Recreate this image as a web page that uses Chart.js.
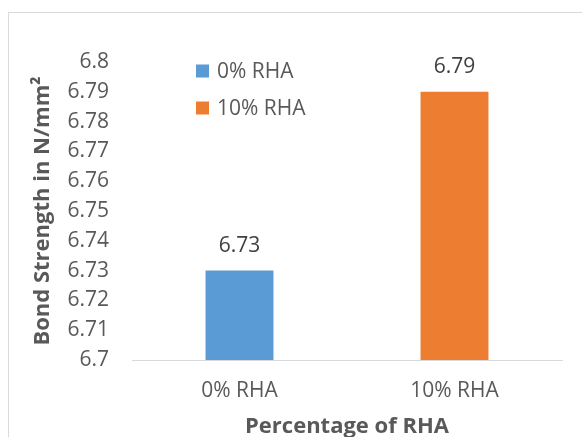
<!DOCTYPE html>
<html lang="en">
<head>
    <meta charset="UTF-8">
    <title>Bond Strength vs Percentage of RHA</title>
    <style>
        html, body {
            margin: 0;
            padding: 0;
            background: #fff;
            overflow: hidden;
        }
        .wrap {
            position: relative;
            width: 582px;
            height: 437px;
        }
        .frame {
            position: absolute;
            left: 8px;
            top: 12px;
            width: 600px;
            height: 460px;
            border: 1px solid #d9d9d9;
            pointer-events: none;
        }
        canvas {
            position: absolute;
            left: 0;
            top: 0;
        }
    </style>
</head>
<body>
    <div class="wrap">
        <div class="frame"></div>
        <canvas id="bondChart" width="582" height="437"></canvas>
    </div>

    <script src="https://cdn.jsdelivr.net/npm/chart.js"></script>
    <script>
        // chart data
        const categories = ['0% RHA', '10% RHA'];
        const seriesNames = ['0% RHA', '10% RHA'];
        const blueValues = [6.73, null];
        const orangeValues = [null, 6.79];
        const colors = ['#5b9bd5', '#ed7d31'];
        const yMin = 6.7;
        const yMax = 6.8;
        const yStep = 0.01;

        const FONT = "'Open Sans', sans-serif";

        // value labels above the bars
        const valueLabels = {
            id: 'valueLabels',
            afterDatasetsDraw(chart) {
                const ctx = chart.ctx;
                ctx.save();
                ctx.font = '21px ' + FONT;
                ctx.fillStyle = '#404040';
                ctx.textAlign = 'center';
                ctx.textBaseline = 'middle';
                chart.data.datasets.forEach((ds, i) => {
                    const meta = chart.getDatasetMeta(i);
                    meta.data.forEach((bar, j) => {
                        const v = ds.data[j];
                        if (v === null || v === undefined) return;
                        ctx.fillText(v.toFixed(2), bar.x, bar.y - 25);
                    });
                });
                ctx.restore();
            }
        };

        // legend drawn inside the plot, top-left
        const innerLegend = {
            id: 'innerLegend',
            afterDraw(chart) {
                const ctx = chart.ctx;
                const x0 = 196;
                const rows = [71, 108];
                ctx.save();
                ctx.font = '21px ' + FONT;
                ctx.textAlign = 'left';
                ctx.textBaseline = 'middle';
                chart.data.datasets.forEach((ds, i) => {
                    const y = rows[i];
                    ctx.fillStyle = ds.backgroundColor;
                    ctx.fillRect(x0, y - 6.5, 13, 13);
                    ctx.fillStyle = '#595959';
                    ctx.fillText(ds.label, x0 + 21, y + 1);
                });
                ctx.restore();
            }
        };

        const ctx = document.getElementById('bondChart').getContext('2d');
        new Chart(ctx, {
            type: 'bar',
            data: {
                labels: categories,
                datasets: [
                    { label: seriesNames[0], data: blueValues, backgroundColor: colors[0] },
                    { label: seriesNames[1], data: orangeValues, backgroundColor: colors[1] }
                ]
            },
            options: {
                responsive: false,
                animation: false,
                skipNull: true,
                categoryPercentage: 1,
                barPercentage: 0.316,
                layout: {
                    padding: { top: 62, right: 20, left: 0, bottom: 0 }
                },
                plugins: {
                    legend: { display: false },
                    tooltip: { enabled: false }
                },
                scales: {
                    x: {
                        grid: { display: false, drawTicks: false },
                        border: { display: true, color: '#d9d9d9', width: 1 },
                        ticks: {
                            color: '#595959',
                            font: { family: FONT, size: 21 },
                            padding: 18
                        },
                        title: {
                            display: true,
                            text: 'Percentage of RHA',
                            color: '#595959',
                            font: { family: FONT, size: 22, weight: 'bold' },
                            padding: { top: 0, bottom: -3 }
                        },
                        afterFit(scale) { scale.height = 77; }
                    },
                    y: {
                        min: yMin,
                        max: yMax,
                        grid: { display: false, drawTicks: false },
                        border: { display: false },
                        ticks: {
                            stepSize: yStep,
                            color: '#595959',
                            font: { family: FONT, size: 21 },
                            padding: 23,
                            callback: v => String(+v.toFixed(2))
                        },
                        title: {
                            display: true,
                            text: 'Bond Strength in N/mm²',
                            color: '#595959',
                            font: { family: FONT, size: 22, weight: 'bold' },
                            padding: { top: 30, bottom: 0 }
                        },
                        afterFit(scale) { scale.width = 132; }
                    }
                }
            },
            plugins: [valueLabels, innerLegend]
        });
    </script>
</body>
</html>
